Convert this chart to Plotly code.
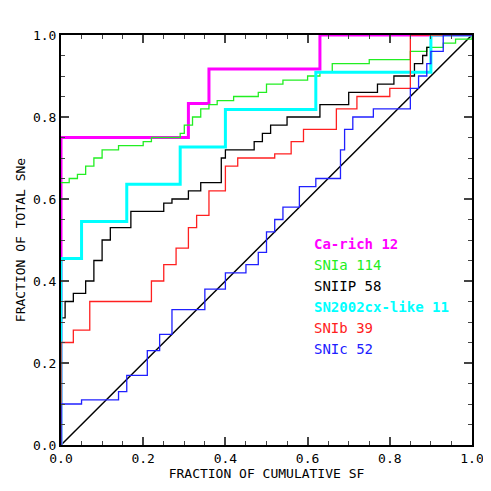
import plotly.graph_objects as go

# cumulative step data
ca_x = [0, 0, 0.31, 0.36, 0.63, 1.0]
ca_y = [0, 0.75, 0.833, 0.917, 1.0, 1.0]

ia_x = [0, 0.02, 0.04, 0.06, 0.08, 0.10, 0.14, 0.20, 0.22, 0.29, 0.30, 0.32, 0.34, 0.36, 0.38, 0.42, 0.48, 0.50, 0.54, 0.60, 0.63, 0.66, 0.75, 0.85, 0.89, 0.93, 0.96, 1.0]
ia_y = [0.64, 0.65, 0.66, 0.68, 0.70, 0.72, 0.73, 0.74, 0.75, 0.76, 0.78, 0.80, 0.82, 0.83, 0.84, 0.85, 0.86, 0.88, 0.89, 0.90, 0.91, 0.93, 0.94, 0.96, 0.97, 0.98, 0.99, 1.0]

iip_x = [0, 0, 0.01, 0.03, 0.06, 0.08, 0.10, 0.12, 0.17, 0.25, 0.27, 0.31, 0.34, 0.39, 0.40, 0.47, 0.49, 0.51, 0.55, 0.63, 0.70, 0.77, 0.81, 0.86, 0.88, 0.89, 0.90, 1.0]
iip_y = [0, 0.31, 0.35, 0.37, 0.40, 0.45, 0.50, 0.53, 0.57, 0.59, 0.60, 0.62, 0.64, 0.70, 0.72, 0.74, 0.76, 0.78, 0.80, 0.83, 0.86, 0.88, 0.90, 0.93, 0.95, 0.97, 1.0, 1.0]

cx_x = [0, 0, 0.05, 0.16, 0.29, 0.40, 0.62, 0.90, 1.0]
cx_y = [0, 0.455, 0.545, 0.636, 0.727, 0.818, 0.909, 1.0, 1.0]

ib_x = [0, 0, 0.03, 0.07, 0.22, 0.25, 0.28, 0.31, 0.33, 0.36, 0.40, 0.43, 0.52, 0.56, 0.59, 0.67, 0.72, 0.80, 0.85, 1.0]
ib_y = [0, 0.25, 0.28, 0.35, 0.40, 0.44, 0.48, 0.53, 0.56, 0.62, 0.68, 0.70, 0.71, 0.74, 0.77, 0.82, 0.85, 0.87, 1.0, 1.0]

ic_x = [0, 0, 0.05, 0.14, 0.16, 0.21, 0.24, 0.27, 0.35, 0.40, 0.45, 0.48, 0.50, 0.52, 0.54, 0.58, 0.62, 0.68, 0.69, 0.71, 0.76, 0.85, 0.87, 0.89, 0.90, 0.93, 1.0]
ic_y = [0, 0.10, 0.11, 0.13, 0.17, 0.23, 0.27, 0.33, 0.38, 0.42, 0.44, 0.47, 0.52, 0.55, 0.58, 0.63, 0.65, 0.72, 0.77, 0.80, 0.82, 0.87, 0.90, 0.93, 0.96, 1.0, 1.0]

series = [
    ("Ca-rich 12", ca_x, ca_y, "#ff00ff", 3),
    ("SNIa 114", ia_x, ia_y, "#22ee22", 1.3),
    ("SNIIP 58", iip_x, iip_y, "black", 1.3),
    ("SN2002cx-like 11", cx_x, cx_y, "#00ffff", 3),
    ("SNIb 39", ib_x, ib_y, "#ff2020", 1.3),
    ("SNIc 52", ic_x, ic_y, "#2020ff", 1.3),
]

fnt = "DejaVu Sans Mono"

fig = go.Figure()
fig.add_trace(go.Scatter(x=[0, 1], y=[0, 1], mode="lines", line=dict(color="black", width=1.5), showlegend=False))
for name, xs, ys, col, w in series:
    fig.add_trace(go.Scatter(x=xs, y=ys, mode="lines", line=dict(color=col, width=w, shape="hv"), showlegend=False))

for i, (name, xs, ys, col, w) in enumerate(series):
    bold = w > 2
    fig.add_annotation(x=0.61, y=0.49 - i * 0.051, xref="x", yref="y", xanchor="left", showarrow=False,
                       text=("<b>%s</b>" % name) if bold else name,
                       font=dict(color=col, size=14, family=fnt))

ax = dict(range=[0, 1], showgrid=False, zeroline=False, ticks="inside", ticklen=8, tickwidth=1.5,
          dtick=0.2, tickformat=".1f", mirror="allticks", showline=True, linecolor="black", linewidth=2,
          minor=dict(ticks="inside", ticklen=4, dtick=0.05, tickwidth=1.2),
          tickfont=dict(size=13, family=fnt, color="black"), automargin=False)
fig.update_xaxes(**ax, title=dict(text="FRACTION OF CUMULATIVE SF", font=dict(size=13, family=fnt, color="black"), standoff=2))
fig.update_yaxes(**ax, title=dict(text="FRACTION OF TOTAL SNe", font=dict(size=13, family=fnt, color="black"), standoff=4))
fig.update_layout(width=491, height=491, margin=dict(l=53, r=27, t=27, b=54),
                  plot_bgcolor="white", paper_bgcolor="white")
fig.write_html("out.html")
